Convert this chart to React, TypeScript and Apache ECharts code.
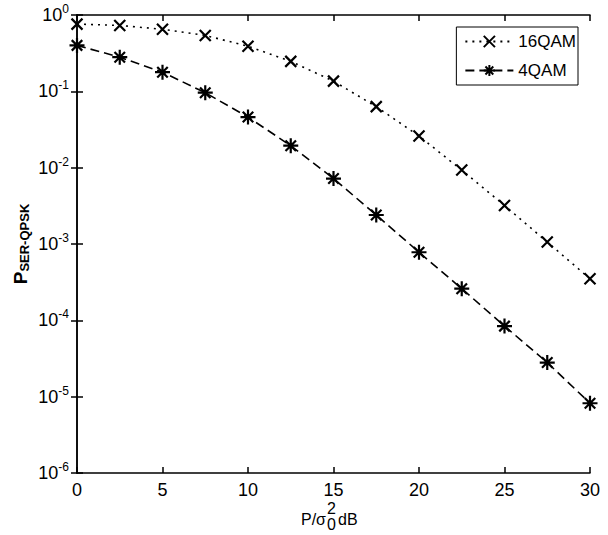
import React, { useEffect, useRef } from "react";
import * as echarts from "echarts";

const xValues = [0, 2.5, 5, 7.5, 10, 12.5, 15, 17.5, 20, 22.5, 25, 27.5, 30];
const qam16 = [0.76, 0.73, 0.65, 0.54, 0.39, 0.247, 0.136, 0.063, 0.026, 0.0093, 0.0032, 0.00106, 0.00035];
const qam4 = [0.4, 0.28, 0.178, 0.096, 0.046, 0.0194, 0.0072, 0.0024, 0.00078, 0.00026, 0.000084, 0.000028, 0.0000082];
const seriesNames = ["16QAM", "4QAM"];
const xTicks = { min: 0, max: 30, interval: 5 };
const yRange = { min: 1e-6, max: 1 };

const FONT = "'Liberation Sans', Arial, sans-serif";
const X_SYMBOL = "path://M0,0L10,10M10,0L0,10";
const STAR_SYMBOL = "path://M5,0L5,10M0,5L10,5M1.5,1.5L8.5,8.5M8.5,1.5L1.5,8.5";

export default function App() {
  const ref = useRef<HTMLDivElement>(null);
  useEffect(() => {
    if (!ref.current) return;
    const chart = echarts.init(ref.current, null, { renderer: "svg" });
    const axisLine = { show: true, lineStyle: { color: "#000", width: 1.5 } };
    const tick = { show: true, inside: true, length: 6, lineStyle: { color: "#000", width: 1.5 } };
    chart.setOption({
      animation: false,
      backgroundColor: "#fff",
      grid: { left: 77, right: 18, top: 15, bottom: 62 },
      legend: {
        data: seriesNames,
        orient: "vertical",
        right: 30,
        top: 27,
        itemWidth: 48,
        itemHeight: 14,
        itemGap: 12,
        padding: [6, 2, 6, 8],
        borderColor: "#000",
        borderWidth: 1,
        backgroundColor: "#fff",
        textStyle: { fontFamily: FONT, fontSize: 17, color: "#000" },
      },
      xAxis: [
        {
          type: "value",
          ...xTicks,
          axisLine,
          axisTick: tick,
          splitLine: { show: false },
          axisLabel: { fontFamily: FONT, fontSize: 18, color: "#000", margin: 8 },
        },
        {
          type: "value",
          position: "top",
          ...xTicks,
          axisLine,
          axisTick: tick,
          splitLine: { show: false },
          axisLabel: { show: false },
        },
      ],
      yAxis: [
        {
          type: "log",
          logBase: 10,
          ...yRange,
          axisLine,
          axisTick: tick,
          splitLine: { show: false },
          minorTick: { show: false },
          axisLabel: {
            margin: 8,
            formatter: (v: number) => `{b|10}{s|${Math.round(Math.log10(v))}}`,
            rich: {
              b: { fontFamily: FONT, fontSize: 18, color: "#000", lineHeight: 24 },
              s: { fontFamily: FONT, fontSize: 12, color: "#000", lineHeight: 12, verticalAlign: "top" },
            },
          },
        },
        {
          type: "log",
          logBase: 10,
          position: "right",
          ...yRange,
          axisLine,
          axisTick: tick,
          splitLine: { show: false },
          axisLabel: { show: false },
        },
      ],
      series: [
        {
          name: seriesNames[0],
          type: "line",
          data: xValues.map((x, i) => [x, qam16[i]]),
          symbol: X_SYMBOL,
          symbolSize: 11,
          itemStyle: { color: "#000", borderColor: "#000", borderWidth: 2.2 },
          lineStyle: { color: "#000", width: 1.6, type: [2, 5] },
        },
        {
          name: seriesNames[1],
          type: "line",
          data: xValues.map((x, i) => [x, qam4[i]]),
          symbol: STAR_SYMBOL,
          symbolSize: 15,
          itemStyle: { color: "#000", borderColor: "#000", borderWidth: 2.2 },
          lineStyle: { color: "#000", width: 1.6, type: [9, 5] },
        },
      ],
      graphic: [
        {
          type: "text",
          x: 20,
          y: 244,
          rotation: Math.PI / 2,
          style: {
            text: "{p|P}{sub|SER-QPSK}",
            align: "center",
            verticalAlign: "middle",
            rich: {
              p: { fontFamily: FONT, fontSize: 19, fontWeight: "bold", fill: "#000", lineHeight: 22 },
              sub: { fontFamily: FONT, fontSize: 13, fontWeight: "bold", fill: "#000", lineHeight: 13, verticalAlign: "bottom" },
            },
          },
        },
        {
          type: "text",
          x: 326,
          y: 519,
          style: { text: "P/σ", align: "right", verticalAlign: "middle", font: `16px ${FONT}`, fill: "#000" },
        },
        {
          type: "text",
          x: 327,
          y: 508,
          style: { text: "2", align: "left", verticalAlign: "middle", font: `16px ${FONT}`, fill: "#000" },
        },
        {
          type: "text",
          x: 327,
          y: 524,
          style: { text: "0", align: "left", verticalAlign: "middle", font: `16px ${FONT}`, fill: "#000" },
        },
        {
          type: "text",
          x: 338,
          y: 519,
          style: { text: "dB", align: "left", verticalAlign: "middle", font: `16px ${FONT}`, fill: "#000" },
        },
      ],
    });
    return () => chart.dispose();
  }, []);
  return (
    <div
      ref={ref}
      style={{ position: "fixed", left: 0, top: 0, width: 608, height: 535, background: "#fff" }}
    />
  );
}
